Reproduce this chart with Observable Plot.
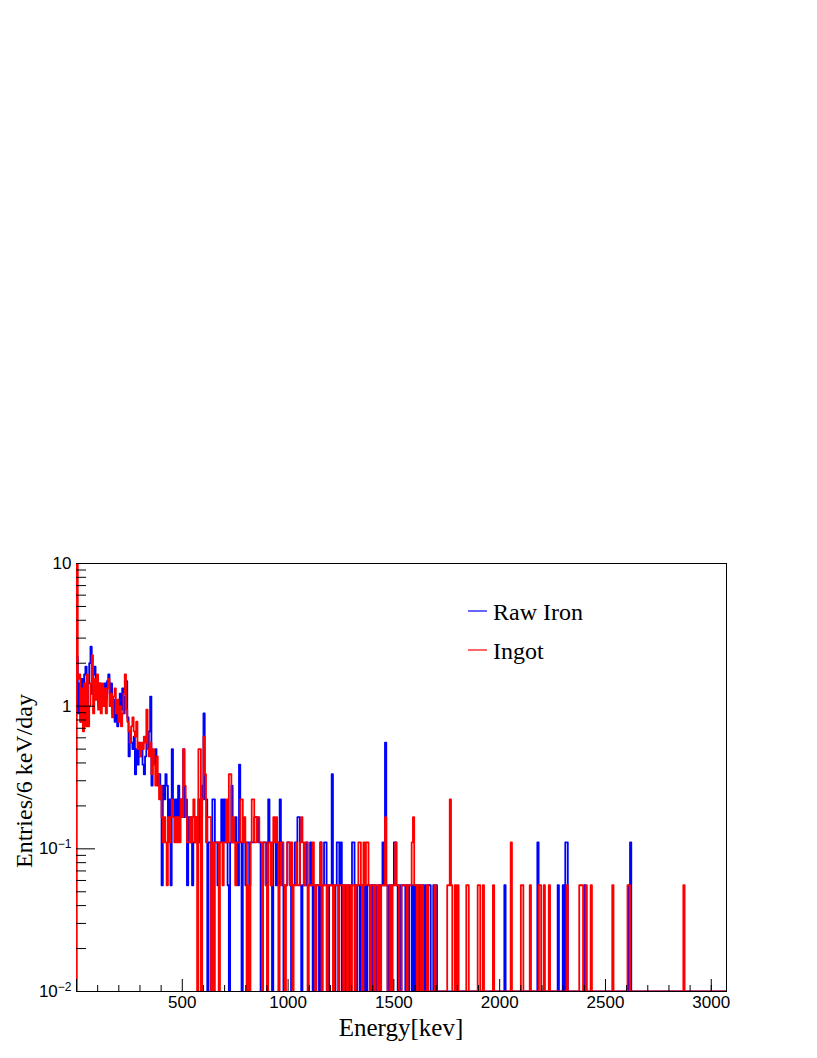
<!DOCTYPE html>
<html>
<head>
<meta charset="utf-8">
<script src="https://cdn.jsdelivr.net/npm/d3@7"></script>
<script src="https://cdn.jsdelivr.net/npm/@observablehq/plot@0.6"></script>
<style>
  html, body { margin: 0; padding: 0; background: #fff; }
  #chart { width: 817px; height: 1058px; }
</style>
</head>
<body>
<div id="chart"></div>
<script>
// ---- data: 6 keV bins, counts per bin over the live time ----
const binWidth = 6;      // keV
const liveDays = 18;     // entries per bin / liveDays = entries/6 keV/day
const seriesNames = ["Raw Iron", "Ingot"];
const seriesColors = ["#0000ff", "#ff0000"];

const rawIronCounts = [
  40,16,26,14,28,18,30,34,16,26,  36,47,22,30,34,20,28,18,26,20,   // 0-19
  24,18,26,20,27,30,22,26,16,20,  14,19,13,18,22,17,24,16,21,27,   // 20-39
  15,8,12,10,9,11,6,9,7,10,       8,9,7,6,8,10,9,12,21,5,          // 40-59
  8,7,9,6,5,6,4,1,5,4,            6,5,3,4,1,9,4,3,4,3,             // 60-79
  5,3,4,3,9,3,4,1,3,2,            3,1,2,3,2,3,4,2,3,5,             // 80-99
  16,4,4,0,2,2,0,4,4,2,           2,1,2,2,4,2,4,2,2,1,             // 100-119
  0,2,5,2,2,3,2,1,7,2,            0,2,2,1,2,2,1,2,2,2,             // 120-139
  3,3,3,2,2,0,1,2,2,1,            2,4,2,1,0,2,2,1,2,1,             // 140-159
  4,2,1,0,1,1,2,2,1,0,            1,1,2,2,3,3,1,0,1,1,             // 160-179
  1,2,1,1,2,1,0,1,1,1,            1,0,2,1,1,2,2,1,0,1,             // 180-199
  1,6,1,0,1,2,2,1,2,0,            1,1,0,1,1,0,1,2,2,1,             // 200-219
  0,1,1,0,1,1,0,1,0,1,            1,0,1,0,1,1,0,0,1,1,             // 220-239
  1,2,1,10,1,0,1,0,1,1,           2,2,1,0,1,0,1,1,1,0,             // 240-259
  1,0,1,1,0,1,0,1,1,0,            1,0,1,1,0,1,0,1,1,0,             // 260-279
  0,1,0,1,0,0,0,0,0,0,            0,0,0,0,0,0,0,0,0,0,             // 280-299
  0,0,0,0,0,0,0,0,0,0,            0,0,0,0,0,0,0,0,0,0,             // 300-319
  0,0,0,0,0,0,0,0,0,0,            0,0,0,0,0,0,0,1,0,0,             // 320-339
  0,0,0,0,0,0,0,0,0,0,            0,0,0,0,0,0,0,0,0,0,             // 340-359
  0,0,0,2,0,0,0,0,0,0,            0,0,0,0,0,0,0,0,0,1,             // 360-379
  0,0,0,1,0,2,2,0,0,0,            0,0,0,0,0,0,0,0,0,0,             // 380-399
  1,0,0,0,0,0,0,0,0,0,            0,0,0,0,0,0,0,0,0,0,             // 400-419
  0,0,0,0,0,0,0,0,0,0,            0,0,0,0,0,1,2,0,0,0,             // 420-439
  0,0,0,0,0,0,0,0,0,0,            0,0,0,0,0,0,0,0,0,0,             // 440-459
  0,0,0,0,0,0,0,0,0,0,            0,0,0,0,0,0,0,0,0,0,             // 460-479
  0,0,0,0,0,0,0,0,0,0,            0,0,0,0,0,0,0,0,0,0,             // 480-499
  0,0,0,0,0,0,0,0,0,0,            0,0                              // 500-511
];

const ingotCounts = [
  200,28,30,14,24,12,26,13,30,13, 18,26,41,16,28,20,30,17,26,16,   // 0-19
  26,18,24,16,24,28,18,22,15,21,  24,16,20,14,18,13,16,22,30,17,   // 20-39
  14,12,10,13,15,12,11,14,9,10,   8,10,9,11,10,17,9,8,10,6,        // 40-59
  9,7,5,8,6,4,5,3,2,3,            2,1,3,2,3,4,3,2,3,2,             // 60-79
  3,2,4,3,9,5,3,2,2,3,            2,3,4,2,3,0,9,9,0,4,             // 80-99
  11,6,2,3,3,3,0,2,0,2,           2,2,0,2,2,1,2,2,4,2,             // 100-119
  6,6,2,3,2,1,2,2,2,4,            4,2,3,2,0,1,0,2,4,4,             // 120-139
  2,2,3,3,2,2,0,2,2,1,            0,2,2,1,2,3,2,3,2,0,             // 140-159
  1,2,2,1,0,1,2,2,1,2,            0,1,1,2,1,1,2,3,2,1,             // 160-179
  2,2,0,1,1,1,2,1,0,1,            1,1,2,0,1,1,1,0,1,1,             // 180-199
  1,1,0,1,1,1,0,1,1,1,            0,1,1,0,1,1,0,1,1,0,             // 200-219
  1,1,2,2,1,0,2,1,2,2,            1,0,1,1,0,1,1,0,1,0,             // 220-239
  1,1,1,3,1,0,0,1,0,1,            1,2,1,1,0,0,1,1,1,1,             // 240-259
  0,1,1,1,2,3,1,1,0,1,            1,0,1,0,0,0,1,0,0,0,             // 260-279
  0,0,1,0,0,0,0,0,0,0,            0,0,1,1,4,1,0,0,1,0,             // 280-299
  1,0,0,0,0,0,0,1,1,0,            0,0,0,0,0,0,1,1,0,0,             // 300-319
  1,0,0,0,0,0,0,0,1,0,            0,0,0,0,0,0,0,0,0,0,             // 320-339
  0,0,2,0,0,0,0,0,0,0,            1,1,0,0,0,0,0,1,0,0,             // 340-359
  0,0,0,0,1,1,0,0,1,0,            0,0,1,0,0,0,0,0,0,0,             // 360-379
  0,0,0,0,0,0,1,0,0,0,            0,0,0,0,0,0,1,1,1,0,             // 380-399
  0,1,0,0,0,1,0,0,0,0,            0,0,0,0,0,0,0,0,0,0,             // 400-419
  0,0,1,0,0,0,0,0,0,0,            0,0,0,0,1,1,0,0,0,0,             // 420-439
  0,0,0,0,0,0,0,0,0,0,            0,0,0,0,0,0,0,0,0,0,             // 440-459
  0,0,0,0,0,0,0,0,0,0,            0,0,0,0,0,0,0,0,1,0,             // 460-479
  0,0,0,0,0,0,0,0,0,0,            0,0,0,0,0,0,0,0,0,0,             // 480-499
  0,0,0,0,0,0,0,0,0,0,            0,0                              // 500-511
];

const xDomain = [0, 3072];
const yDomain = [0.01, 10];
const xMajorTicks = [0, 500, 1000, 1500, 2000, 2500, 3000];
const xMinorTicks = [100,200,300,400,600,700,800,900,1100,1200,1300,1400,1600,1700,1800,1900,
                     2100,2200,2300,2400,2600,2700,2800,2900,3000];
const xLabelTicks = [500, 1000, 1500, 2000, 2500, 3000];
const xTickLabels = ["500", "1000", "1500", "2000", "2500", "3000"];
const yMajorTicks = [0.01, 0.1, 1, 10];
const yTickLabels = ["10^-2", "10^-1", "1", "10"];
const yMinorTicks = [0.02,0.03,0.04,0.05,0.06,0.07,0.08,0.09,
                     0.2,0.3,0.4,0.5,0.6,0.7,0.8,0.9,
                     2,3,4,5,6,7,8,9];
const xTitle = "Energy[kev]";
const yTitle = "Entries/6 keV/day";

// ROOT-style histogram outline: empty bins drop to the axis floor
function stepPoints(counts) {
  const floor = yDomain[0];
  const pts = [{e: 0, v: floor}];
  counts.forEach((c, i) => pts.push({e: i * binWidth, v: c > 0 ? c / liveDays : floor}));
  const last = counts[counts.length - 1];
  pts.push({e: counts.length * binWidth, v: last > 0 ? last / liveDays : floor});
  pts.push({e: counts.length * binWidth, v: floor});
  return pts;
}

const plot = Plot.plot({
  width: 817,
  height: 1058,
  marginTop: 563,
  marginRight: 91,
  marginBottom: 67,
  marginLeft: 76,
  style: {fontFamily: '"Liberation Sans", Arial, Helvetica, sans-serif', fontSize: "17px", background: "#fff", color: "#000"},
  x: {domain: xDomain},
  y: {type: "log", domain: yDomain},
  marks: [
    Plot.frame({stroke: "#000", strokeWidth: 1}),
    Plot.line(stepPoints(rawIronCounts), {x: "e", y: "v", curve: "step-after", stroke: seriesColors[0], strokeWidth: 1.8, clip: true}),
    Plot.line(stepPoints(ingotCounts), {x: "e", y: "v", curve: "step-after", stroke: seriesColors[1], strokeWidth: 1.8, clip: true}),
    Plot.axisX({ticks: xMinorTicks, tickSize: -6, fill: "none", label: null}),
    Plot.axisX({ticks: xMajorTicks, tickSize: -12, fill: "none", label: null}),
    Plot.axisX({ticks: xLabelTicks, tickSize: 0, tickPadding: 4, fontSize: 17, label: null,
                tickFormat: d => xTickLabels[xLabelTicks.indexOf(d)]}),
    Plot.axisY({ticks: yMinorTicks, tickSize: -10, fill: "none", label: null}),
    Plot.axisY({ticks: yMajorTicks, tickSize: -19, fill: "none", label: null}),
    Plot.axisY({ticks: yMajorTicks, tickSize: 0, tickPadding: 5, fontSize: 17, label: null,
                tickFormat: d => yTickLabels[yMajorTicks.indexOf(d)]})
  ]
});

document.getElementById("chart").appendChild(plot);

// superscript exponents on the log-axis labels
const NS = "http://www.w3.org/2000/svg";
plot.querySelectorAll('g[aria-label="y-axis tick label"] text').forEach(t => {
  const s = t.textContent;
  const k = s.indexOf("^");
  if (k >= 0) {
    const base = s.slice(0, k);
    const exp = s.slice(k + 1).replace("-", "\u2212");
    while (t.firstChild) t.removeChild(t.firstChild);
    t.appendChild(document.createTextNode(base));
    const ts = document.createElementNS(NS, "tspan");
    ts.setAttribute("dy", "-0.5em");
    ts.setAttribute("font-size", "12px");
    ts.textContent = exp;
    t.appendChild(ts);
  }
});

// titles and legend
const xs = plot.scale("x"), ys = plot.scale("y");
const svg = d3.select(plot);
const serif = '"Liberation Serif", "Times New Roman", Times, serif';
const xMid = (xs.range[0] + xs.range[1]) / 2;
const yMid = (ys.range[0] + ys.range[1]) / 2;

svg.append("text")
  .attr("x", xMid).attr("y", 1036)
  .attr("text-anchor", "middle")
  .attr("font-family", serif).attr("font-size", 25).attr("fill", "#000")
  .text(xTitle);

svg.append("text")
  .attr("transform", `translate(32,${yMid + 4}) rotate(-90)`)
  .attr("text-anchor", "middle")
  .attr("font-family", serif).attr("font-size", 24).attr("fill", "#000")
  .text(yTitle);

const legend = svg.append("g");
const legendRows = [611, 650];
seriesNames.forEach((name, i) => {
  legend.append("line")
    .attr("x1", 468).attr("x2", 487)
    .attr("y1", legendRows[i]).attr("y2", legendRows[i])
    .attr("stroke", seriesColors[i]).attr("stroke-width", 1.2);
  legend.append("text")
    .attr("x", 493).attr("y", legendRows[i] + 8.5)
    .attr("text-anchor", "start")
    .attr("font-family", serif).attr("font-size", 24).attr("fill", "#000")
    .text(name);
});
</script>
</body>
</html>
